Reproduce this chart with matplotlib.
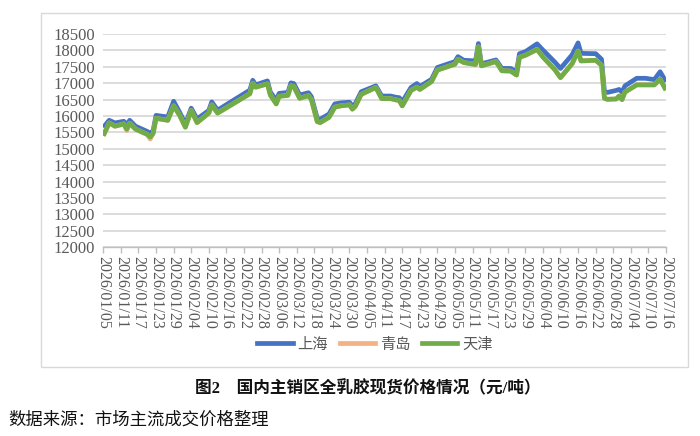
import matplotlib
matplotlib.use("Agg")
import matplotlib.pyplot as plt
from matplotlib.patches import Rectangle
from matplotlib.lines import Line2D
import pandas as pd

plt.rcParams["font.family"] = ["Liberation Serif", "Noto Sans CJK SC", "DejaVu Sans"]

# ---------------- data ----------------
dates = [
    "2026-01-05", "2026-01-07", "2026-01-09", "2026-01-12", "2026-01-13", "2026-01-14",
    "2026-01-16", "2026-01-20", "2026-01-21", "2026-01-22", "2026-01-23", "2026-01-27",
    "2026-01-29", "2026-01-31", "2026-02-02", "2026-02-04", "2026-02-06", "2026-02-10",
    "2026-02-11", "2026-02-13", "2026-02-24", "2026-02-25", "2026-02-26", "2026-03-02",
    "2026-03-03", "2026-03-05", "2026-03-06", "2026-03-09", "2026-03-10", "2026-03-11",
    "2026-03-13", "2026-03-16", "2026-03-17", "2026-03-19", "2026-03-20", "2026-03-23",
    "2026-03-25", "2026-03-27", "2026-03-30", "2026-03-31", "2026-04-01", "2026-04-03",
    "2026-04-08", "2026-04-10", "2026-04-13", "2026-04-15", "2026-04-16", "2026-04-17",
    "2026-04-20", "2026-04-22", "2026-04-23", "2026-04-27", "2026-04-29", "2026-05-05",
    "2026-05-06", "2026-05-08", "2026-05-12", "2026-05-13", "2026-05-14", "2026-05-19",
    "2026-05-21", "2026-05-24", "2026-05-26", "2026-05-27", "2026-05-29", "2026-06-02",
    "2026-06-04", "2026-06-08", "2026-06-10", "2026-06-14", "2026-06-16", "2026-06-17",
    "2026-06-22", "2026-06-24", "2026-06-25", "2026-06-26", "2026-06-29", "2026-06-30",
    "2026-07-01", "2026-07-02", "2026-07-06", "2026-07-09", "2026-07-12", "2026-07-14",
    "2026-07-16",
]

shanghai = [
    15650, 15870, 15790, 15840, 15730, 15870,
    15690, 15530, 15470, 15560, 16020, 15970,
    16450, 16120, 15760, 16240, 15910, 16170,
    16430, 16180, 16790, 17090, 16950, 17070,
    16730, 16480, 16690, 16720, 17010, 16990,
    16640, 16710, 16590, 15930, 15900, 16060,
    16370, 16400, 16420, 16300, 16380, 16740,
    16920, 16610, 16610, 16570, 16560, 16430,
    16870, 16990, 16900, 17120, 17480, 17660,
    17810, 17700, 17680, 18210, 17590, 17710,
    17450, 17450, 17350, 17900, 17960, 18200,
    18010, 17650, 17450, 17870, 18230, 17910,
    17900, 17730, 16740, 16720, 16780, 16810,
    16730, 16920, 17150, 17150, 17110, 17350,
    17040,
]

qingdao = [
    15400, 15790, 15690, 15760, 15560, 15780,
    15600, 15440, 15300, 15470, 15930, 15870,
    16310, 16030, 15660, 16170, 15800, 16090,
    16340, 16090, 16680, 17000, 16880, 16980,
    16640, 16370, 16600, 16630, 16920, 16900,
    16540, 16620, 16500, 15830, 15800, 15960,
    16270, 16310, 16340, 16210, 16300, 16660,
    16870, 16530, 16530, 16490, 16470, 16310,
    16780, 16880, 16810, 17050, 17400, 17580,
    17730, 17630, 17570, 18110, 17530, 17660,
    17380, 17370, 17250, 17790, 17850, 18030,
    17800, 17420, 17170, 17600, 17980, 17680,
    17700, 17550, 16540, 16510, 16520, 16610,
    16500, 16730, 16950, 16950, 16950, 17120,
    16790,
]

tianjin = [
    15400, 15790, 15690, 15760, 15600, 15780,
    15600, 15440, 15360, 15470, 15930, 15870,
    16310, 16030, 15660, 16170, 15800, 16090,
    16340, 16090, 16680, 17000, 16880, 16980,
    16640, 16370, 16600, 16630, 16920, 16900,
    16540, 16620, 16500, 15830, 15800, 15960,
    16270, 16310, 16340, 16210, 16300, 16660,
    16870, 16530, 16530, 16490, 16470, 16310,
    16780, 16880, 16810, 17050, 17400, 17580,
    17730, 17630, 17570, 18110, 17530, 17660,
    17380, 17370, 17250, 17790, 17850, 18030,
    17800, 17420, 17170, 17600, 17980, 17680,
    17700, 17550, 16540, 16510, 16520, 16610,
    16500, 16730, 16950, 16950, 16950, 17120,
    16790,
]

series_names = ["上海", "青岛", "天津"]

ytick_values = [12000, 12500, 13000, 13500, 14000, 14500, 15000, 15500,
                16000, 16500, 17000, 17500, 18000, 18500]

xtick_labels = [
    "2026/01/05", "2026/01/11", "2026/01/17", "2026/01/23", "2026/01/29",
    "2026/02/04", "2026/02/10", "2026/02/16", "2026/02/22", "2026/02/28",
    "2026/03/06", "2026/03/12", "2026/03/18", "2026/03/24", "2026/03/30",
    "2026/04/05", "2026/04/11", "2026/04/17", "2026/04/23", "2026/04/29",
    "2026/05/05", "2026/05/11", "2026/05/17", "2026/05/23", "2026/05/29",
    "2026/06/04", "2026/06/10", "2026/06/16", "2026/06/22", "2026/06/28",
    "2026/07/04", "2026/07/10", "2026/07/16",
]

caption = "图2　国内主销区全乳胶现货价格情况（元/吨）"
source = "数据来源：市场主流成交价格整理"

# ---------------- styles ----------------
colors = ["#4472C4", "#F4B183", "#70AD47"]
tick_grey = "#595959"
cjk = ["Noto Sans CJK SC", "DejaVu Sans"]
cap_fam = ["Liberation Serif", "Noto Sans CJK SC", "DejaVu Sans"]

W, H = 700, 436
fig = plt.figure(figsize=(W / 100, H / 100), dpi=100)

# chart outer border
fig.patches.append(Rectangle((41 / W, 1 - 367 / H), 647 / W, 354 / H,
                             transform=fig.transFigure, fill=False,
                             edgecolor="#d9d9d9", linewidth=1.0))

left, right = 103.3 / W, 666 / W
top, bottom = 1 - 34 / H, 1 - 247.3 / H
ax = fig.add_axes([left, bottom, right - left, top - bottom])

x = pd.to_datetime(dates)
for vals, c, name in zip([shanghai, qingdao, tianjin], colors, series_names):
    ax.plot(x, vals, color=c, linewidth=3.4, solid_joinstyle="round",
            solid_capstyle="butt", label=name, zorder=3)

ax.set_ylim(ytick_values[0], ytick_values[-1])
xt = pd.to_datetime(xtick_labels, format="%Y/%m/%d")
ax.set_xlim(xt[0], xt[-1])
ax.set_xticks(xt)
ax.set_xticklabels(xtick_labels, rotation=-90, fontsize=11.5,
                   color=tick_grey, va="top", ha="center")
ax.set_yticks(ytick_values)
ax.set_yticklabels([str(v) for v in ytick_values], fontsize=12,
                   color=tick_grey)

ax.grid(axis="y", color="#d9d9d9", linewidth=1.3, zorder=0)
ax.set_axisbelow(True)
for s in ["left", "right", "top"]:
    ax.spines[s].set_visible(False)
ax.spines["bottom"].set_color("#bfbfbf")
ax.spines["bottom"].set_linewidth(1.0)
ax.tick_params(axis="x", direction="out", length=4, width=1.0,
               color="#bfbfbf", pad=2)
ax.tick_params(axis="y", length=0, pad=6)

handles = [Line2D([0], [0], color=c, linewidth=3.4) for c in colors]
fig.legend(handles, series_names, loc="center",
           bbox_to_anchor=(375 / W, 1 - 344 / H), ncol=3, frameon=False,
           handlelength=2.3, handletextpad=0.3, columnspacing=0.8,
           prop={"family": cjk, "size": 11}, labelcolor=tick_grey)

fig.text(368 / W, 1 - 389 / H, caption, ha="center", va="center",
         family=cap_fam, fontsize=12, fontweight="bold", color="#111111")
fig.text(8 / W, 1 - 420 / H, source, ha="left", va="center",
         family=cjk, fontsize=12.5, color="#111111")

fig.savefig("out.png", dpi=100)
